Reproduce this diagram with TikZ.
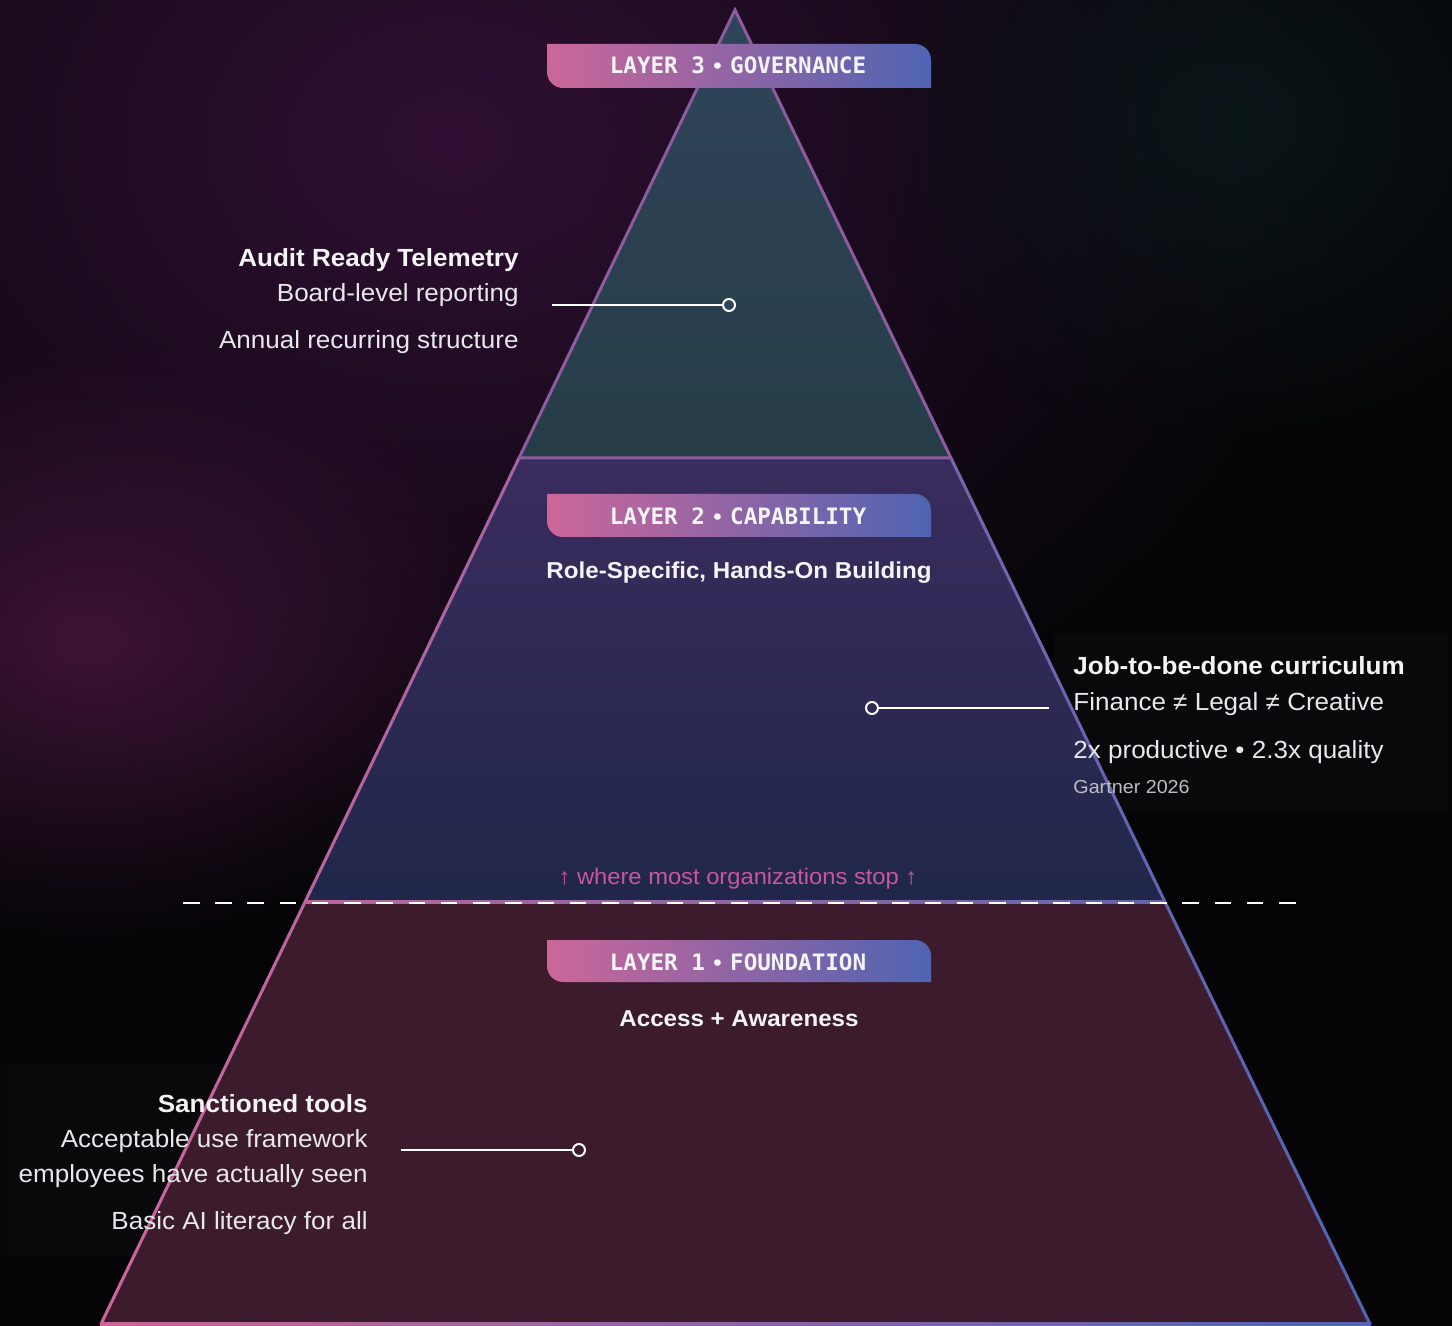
\documentclass[tikz,border=0pt]{standalone}
\usepackage{fontspec}
\setmainfont{Liberation Sans}[FakeStretch=1.05]
\newfontfamily\monof{DejaVu Sans Mono}
\usetikzlibrary{fadings}
\definecolor{PK}{HTML}{CC6699}
\definecolor{BL}{HTML}{4F64B2}
\definecolor{bgbase}{HTML}{050507}
\definecolor{bgP}{HTML}{301034}
\definecolor{bgM}{HTML}{3E1436}
\definecolor{bgT}{HTML}{0B1619}
\definecolor{topA}{HTML}{2F445A}
\definecolor{topB}{HTML}{263D48}
\definecolor{midA}{HTML}{3A2C5E}
\definecolor{midB}{HTML}{20274A}
\definecolor{botF}{HTML}{3C1B2D}
\definecolor{topE}{HTML}{8C5C9E}
\definecolor{boxF}{HTML}{0A0A0C}
\definecolor{txt}{HTML}{F4F4F6}
\definecolor{bodyT}{HTML}{E8E8EC}
\definecolor{pinkT}{HTML}{C9579A}
\definecolor{greyT}{HTML}{BDBDC2}
\tikzfading[name=blob, inner color=transparent!0, outer color=transparent!100]
\newcommand\barsep{\hspace{4.2pt}{\rmfamily\bfseries •}\hspace{4.2pt}}
\tikzset{
  barshape/.style={left color=PK, right color=BL},
  bartext/.style={text=txt, font=\monof\bfseries\fontsize{11.3}{13}\selectfont, inner sep=0pt},
  subtitle/.style={text=txt, font=\bfseries\fontsize{11.5}{14}\selectfont, inner sep=0pt},
  headR/.style={text=txt, font=\bfseries\fontsize{12.4}{15}\selectfont, inner sep=0pt},
  bodyR/.style={text=bodyT, font=\fontsize{12.4}{15}\selectfont, inner sep=0pt},
  smallR/.style={text=greyT, font=\fontsize{9.4}{11}\selectfont, inner sep=0pt},
  notetext/.style={text=pinkT, font=\fontsize{11.3}{13}\selectfont, inner sep=0pt},
  conn/.style={draw=white, line width=1.25pt},
  pin/.style={circle, draw=white, line width=1pt, minimum size=6pt, inner sep=0pt},
  infobox/.style={fill=boxF, fill opacity=0.92},
  dashline/.style={draw=white, line width=0.9pt, dash pattern=on 8.25pt off 7.87pt}
}
\begin{document}
\begin{tikzpicture}[x=0.5pt,y=-0.5pt]
\useasboundingbox (0,0) rectangle (1452,1326);
% background
\fill[bgbase] (0,0) rectangle (1452,1326);
\fill[bgP, path fading=blob] (450,140) ellipse (900 and 680);
\fill[bgM, path fading=blob] (90,640) ellipse (430 and 300);
\fill[bgT, path fading=blob] (1230,120) ellipse (380 and 330);
% info boxes (under the pyramid)
\fill[infobox] (1054,634) rectangle (1448,811);
\fill[infobox] (7,1063) rectangle (401,1256);
% pyramid fills
\shade[top color=topA, bottom color=topB] (735,10) -- (951,458) -- (519,458) -- cycle;
\shade[top color=midA, bottom color=midB] (519,458) -- (951,458) -- (1165,902) -- (305,902) -- cycle;
\fill[botF] (305,902) -- (1165,902) -- (1370,1324) -- (101,1324) -- cycle;
% gradient edges of lower layers
\shade[left color=PK!84!BL, right color=PK!67!BL] (303.3,902) -- (306.7,902) -- (520.7,458) -- (517.3,458) -- cycle;
\shade[left color=PK!33!BL, right color=PK!16!BL] (949.3,458) -- (952.7,458) -- (1166.7,902) -- (1163.3,902) -- cycle;
\shade[left color=PK!84!BL, right color=PK!16!BL] (305,900.5) rectangle (1165,903.5);
\shade[left color=PK, right color=PK!84!BL] (99.3,1324) -- (102.7,1324) -- (306.7,902) -- (303.3,902) -- cycle;
\shade[left color=PK!16!BL, right color=BL] (1163.3,902) -- (1166.7,902) -- (1371.7,1324) -- (1368.3,1324) -- cycle;
\shade[left color=PK, right color=BL] (100,1322.5) rectangle (1371,1326);
% top layer outline
\draw[topE, line width=1.5pt, line join=miter] (735,10) -- (951,458) -- (519,458) -- cycle;
% dashed threshold line
\coordinate (dashL) at (183,903);
\coordinate (dashR) at (1296,903);
\draw[dashline] (dashL) -- (dashR);
% layer bars (rounded top-right and bottom-left corners)
\shade[barshape] (547,44) -- (915,44) .. controls (923.8,44) and (931,51.2) .. (931,60) -- (931,88) -- (563,88) .. controls (554.2,88) and (547,80.8) .. (547,72) -- cycle;
\shade[barshape] (547,494) -- (915,494) .. controls (923.8,494) and (931,501.2) .. (931,510) -- (931,537) -- (563,537) .. controls (554.2,537) and (547,529.8) .. (547,521) -- cycle;
\shade[barshape] (547,940) -- (915,940) .. controls (923.8,940) and (931,947.2) .. (931,956) -- (931,982) -- (563,982) .. controls (554.2,982) and (547,974.8) .. (547,966) -- cycle;
\node[bartext, anchor=base] (lay3) at (738,74) {LAYER 3\barsep GOVERNANCE};
\node[bartext, anchor=base] (lay2) at (738,525) {LAYER 2\barsep CAPABILITY};
\node[bartext, anchor=base] (lay1) at (738,970) {LAYER 1\barsep FOUNDATION};
% subtitles
\node[subtitle, anchor=base] (sub2) at (739,579) {Role-Specific, Hands-On Building};
\node[subtitle, anchor=base] (sub1) at (739,1026) {Access + Awareness};
\node[notetext, anchor=base] (note) at (738,884) {↑ where most organizations stop ↑};
% layer 3 callout
\node[headR, anchor=base east] (t3a) at (519,267) {Audit Ready Telemetry};
\node[bodyR, anchor=base east] (t3b) at (519,302) {Board-level reporting};
\node[bodyR, anchor=base east] (t3c) at (519,349) {Annual recurring structure};
\coordinate (c3) at (552,305);
\node[pin, fill=topA] (p3) at (729,305) {};
\draw[conn] (c3) -- (p3);
% layer 2 callout
\node[headR, anchor=base west] (t2a) at (1073,675) {Job-to-be-done curriculum};
\node[bodyR, anchor=base west] (t2b) at (1073,710) {Finance ≠ Legal ≠ Creative};
\node[bodyR, anchor=base west] (t2c) at (1073,758) {2x productive • 2.3x quality};
\node[smallR, anchor=base west] (t2d) at (1073,793) {Gartner 2026};
\coordinate (c2) at (1049,708);
\node[pin, fill=midA!60!midB] (p2) at (872,708) {};
\draw[conn] (p2) -- (c2);
% layer 1 callout
\node[headR, anchor=base east] (t1a) at (368,1112) {Sanctioned tools};
\node[bodyR, anchor=base east] (t1b) at (368,1147) {Acceptable use framework};
\node[bodyR, anchor=base east] (t1c) at (368,1182) {employees have actually seen};
\node[bodyR, anchor=base east] (t1d) at (368,1229) {Basic AI literacy for all};
\coordinate (c1) at (401,1150);
\node[pin, fill=botF] (p1) at (579,1150) {};
\draw[conn] (c1) -- (p1);
\end{tikzpicture}
\end{document}
